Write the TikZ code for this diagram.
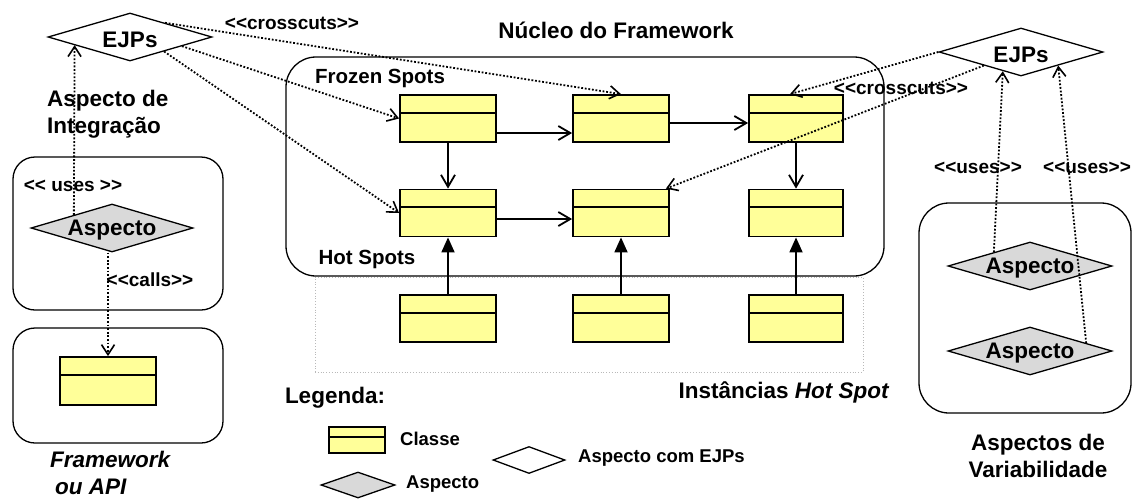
\documentclass[tikz,border=0pt]{standalone}
\usepackage{fontspec}
\setmainfont{Liberation Sans}
\usetikzlibrary{shapes.geometric,arrows.meta,calc}
\definecolor{clsyellow}{HTML}{FFFF99}
\definecolor{aspgray}{HTML}{D9D9D9}
\newcommand{\fbig}{\fontsize{22.5}{26.5}\selectfont\bfseries}
\newcommand{\fmid}{\fontsize{20.5}{24}\selectfont\bfseries}
\newcommand{\flab}{\fontsize{19}{22}\selectfont\bfseries}
\newcommand{\fleg}{\fontsize{18.5}{22}\selectfont\bfseries}
\newcommand{\lsg}{<\kern0pt<}
\newcommand{\rsg}{>\kern0pt>}
\begin{document}
\begin{tikzpicture}[x=1pt,y=-1pt,
  cls/.style={draw, line width=1.8pt, fill=clsyellow, minimum width=96pt, minimum height=47pt, inner sep=0pt,
    path picture={\draw[line width=1.8pt] ($(path picture bounding box.north west)!0.38!(path picture bounding box.south west)$) -- ($(path picture bounding box.north east)!0.38!(path picture bounding box.south east)$);}},
  dia/.style={diamond, draw, line width=1.3pt, inner sep=0pt, minimum width=164pt, minimum height=48pt},
  dl/.style={label={[font=\fbig, inner sep=0pt, yshift=-2.5pt]center:#1}},
  frm/.style={draw, line width=1.3pt, inner sep=0pt},
  lbl/.style={inner sep=0pt},
  arr/.style={line width=1.8pt, -{Straight Barb[length=12pt,width=14pt,line width=1.8pt]}},
  inh/.style={line width=1.8pt, -{Triangle[length=15pt,width=13pt]}},
  dot/.style={line width=1.8pt, dash pattern=on 1.8pt off 1.8pt, -{Straight Barb[length=10pt,width=13pt,line width=1.6pt]}}
]
\fill[white] (0,0) rectangle (1139,498);
\useasboundingbox (0,0) rectangle (1139,498);

% frames
\node[frm, minimum width=210pt, minimum height=153pt, rounded corners=22pt] (boxA) at (118,233.5) {};
\node[frm, minimum width=210pt, minimum height=115pt, rounded corners=22pt] (boxF) at (118,385.5) {};
\node[draw=gray!55, line width=0.8pt, dotted, minimum width=548pt, minimum height=95pt, inner sep=0pt] (inst) at (589,324.5) {};
\node[frm, minimum width=598pt, minimum height=219pt, rounded corners=30pt] (core) at (585,166.5) {};
\node[frm, minimum width=212pt, minimum height=210pt, rounded corners=30pt] (boxV) at (1025,308) {};

% texts
\node[lbl, font=\fbig] (title) at (616,30) {Núcleo do Framework};
\node[lbl, font=\fmid] (frozen) at (380,78) {Frozen Spots};
\node[lbl, font=\fmid] (hot) at (367,259) {Hot Spots};
\node[lbl, font=\fbig] (insttxt) at (784,392) {Instâncias \textit{Hot Spot}};
\node[lbl, font=\fbig, align=left, anchor=west] (integ) at (47,114) {Aspecto de\\Integração};
\node[lbl, font=\fbig\itshape, align=left, anchor=west] (fwtxt) at (50,473) {Framework\\\hspace*{5pt}ou API};
\node[lbl, font=\fbig, align=center] (vartxt) at (1038,456) {Aspectos de\\Variabilidade};
\node[lbl, font=\flab] (ccL) at (292,23) {\lsg crosscuts\rsg};
\node[lbl, font=\flab] (ccR) at (901,88) {\lsg crosscuts\rsg};
\node[lbl, font=\flab] (usesL) at (73,186) {\lsg{} uses \rsg};
\node[lbl, font=\flab] (calls) at (150,280) {\lsg calls\rsg};
\node[lbl, font=\flab] (usesR1) at (978,168) {\lsg uses\rsg};
\node[lbl, font=\flab] (usesR2) at (1087,168) {\lsg uses\rsg};

% diamonds
\node[dia, fill=white, dl=EJPs] (ejpL) at (130,37) {};
\node[dia, fill=aspgray, dl=Aspecto, minimum width=162pt] (aspL) at (112,228) {};
\node[dia, fill=white, dl=EJPs] (ejpR) at (1021,52) {};
\node[dia, fill=aspgray, dl=Aspecto] (asp1) at (1030,266) {};
\node[dia, fill=aspgray, dl=Aspecto] (asp2) at (1030,351) {};

% classes
\node[cls, minimum height=48pt] (clsL) at (108,381) {};
\node[cls] (f1) at (448,118.5) {};
\node[cls] (f2) at (621,118.5) {};
\node[cls, minimum width=94pt] (f3) at (796,118.5) {};
\node[cls] (h1) at (448,213) {};
\node[cls] (h2) at (621,213) {};
\node[cls, minimum width=94pt] (h3) at (796,213) {};
\node[cls] (i1) at (448,318.5) {};
\node[cls] (i2) at (621,318.5) {};
\node[cls, minimum width=94pt] (i3) at (796,318.5) {};

% legend
\node[lbl, font=\fbig] (leg) at (335,398) {Legenda:};
\node[cls, minimum width=56pt, minimum height=26pt] (legcls) at (357,440) {};
\node[lbl, font=\fleg, anchor=west] (legclstxt) at (400,439) {Classe};
\node[dia, fill=white, minimum width=72pt, minimum height=27pt] (legejp) at (529,460) {};
\node[lbl, font=\fleg, anchor=west] (legejptxt) at (578,458) {Aspecto com EJPs};
\node[dia, fill=aspgray, minimum width=74pt, minimum height=26pt] (legasp) at (358,485) {};
\node[lbl, font=\fleg, anchor=west] (legasptxt) at (406,484) {Aspecto};

% solid connectors
\draw[arr] ([yshift=-14.5pt]f1.east) -- ([yshift=-14.5pt]f2.west);
\draw[arr] ([yshift=-4.5pt]f2.east) -- ([yshift=-4.5pt]f3.west);
\draw[arr] (f1.south) -- (h1.north);
\draw[arr] (f3.south) -- (h3.north);
\draw[arr] ([yshift=-6pt]h1.east) -- ([yshift=-6pt]h2.west);
\foreach \k in {1,2,3} \draw[inh] (i\k.north) -- (h\k.south);

% dotted connectors
\draw[dot] (ejpL.22) -- (f2.north);
\draw[dot] (ejpL.-10) -- (f1.west);
\draw[dot] (ejpL.-23) -- (h1.west);
\draw[dot] (ejpR.west) -- ([xshift=-6pt]f3.north);
\draw[dot] ($(ejpR.west)!0.55!(ejpR.south)$) -- ([xshift=-4pt]h2.north east);
\draw[dot] (asp1.159) -- ($(ejpR.west)!0.78!(ejpR.south)$);
\draw[dot] (asp2.8) -- ($(ejpR.south)!0.45!(ejpR.east)$);
\draw[dot] (aspL.161) -- ($(ejpL.west)!0.33!(ejpL.south)$);
\draw[dot] (clsL.north |- aspL.south) -- (clsL.north);
\end{tikzpicture}
\end{document}
